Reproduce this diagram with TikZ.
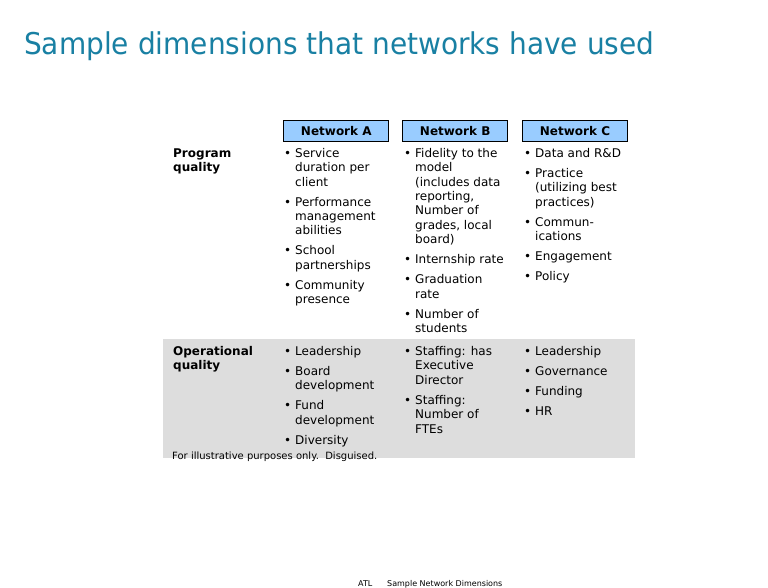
\documentclass[tikz,border=0pt]{standalone}
\usepackage{fontspec}
\setmainfont{DejaVu Sans}
\newfontfamily\titlefont[FakeStretch=0.933]{DejaVu Sans}
\definecolor{titleteal}{RGB}{25,128,163}
\definecolor{headblue}{RGB}{153,204,255}
\definecolor{bandgray}{RGB}{221,221,221}
\newcommand{\bul}{\llap{\textbullet\hspace{4pt}}}
\newcommand{\gap}{\\[5.6pt]}
\tikzset{
  cell/.style={anchor=north west, inner sep=0pt, align=left,
    font=\fontsize{12}{14.4}\selectfont},
  rowlabel/.style={cell, font=\fontsize{12}{14.4}\selectfont\bfseries},
  headbox/.style={draw=black, line width=1.2pt, fill=headblue,
    minimum width=105pt, minimum height=21pt, inner sep=0pt,
    font=\fontsize{12}{14.4}\selectfont\bfseries},
}
\begin{document}
\begin{tikzpicture}[x=1pt,y=-1pt]
\useasboundingbox (0,0) rectangle (768,588);
% title
\node[anchor=base west, inner sep=0pt, text=titleteal,
  font=\titlefont\fontsize{30}{36}\selectfont] (title) at (24,55)
  {Sample dimensions that networks have used};
% gray band for operational quality
\fill[bandgray] (163,339) rectangle (635,458);
% headers
\node[headbox] (hA) at (336.3,130.8) {Network A};
\node[headbox] (hB) at (455.2,130.8) {Network B};
\node[headbox] (hC) at (575,130.8) {Network C};
% row labels
\node[rowlabel] (pq) at (173,147.0) {\strut Program\\quality};
\node[rowlabel] (oq) at (173,345.3) {\strut Operational\\quality};
% program quality cells
\node[cell] (pA) at (295,147.0) {\strut\bul Service\\duration per\\client\gap
  \bul Performance\\management\\abilities\gap
  \bul School\\partnerships\gap
  \bul Community\\presence};
\node[cell] (pB) at (415,147.0) {\strut\bul Fidelity to the\\model\\(includes data\\reporting,\\Number of\\grades, local\\board)\gap
  \bul Internship rate\gap
  \bul Graduation\\rate\gap
  \bul Number of\\students};
\node[cell] (pC) at (535,147.0) {\strut\bul Data and R\&D\gap
  \bul Practice\\(utilizing best\\practices)\gap
  \bul Commun-\\ications\gap
  \bul Engagement\gap
  \bul Policy};
% operational quality cells
\node[cell] (oA) at (295,345.3) {\strut\bul Leadership\gap
  \bul Board\\development\gap
  \bul Fund\\development\gap
  \bul Diversity};
\node[cell] (oB) at (415,345.3) {\strut\bul Staffing: has\\Executive\\Director\gap
  \bul Staffing:\\Number of\\FTEs};
\node[cell] (oC) at (535,345.3) {\strut\bul Leadership\gap
  \bul Governance\gap
  \bul Funding\gap
  \bul HR};
% footnote
\node[anchor=base west, inner sep=0pt, font=\fontsize{10}{12}\selectfont]
  (note) at (172,459) {For illustrative purposes only.\ \ Disguised.};
% footer
\node[anchor=base west, inner sep=0pt, font=\fontsize{8}{9.6}\selectfont]
  (atl) at (358,586.5) {ATL};
\node[anchor=base west, inner sep=0pt, font=\fontsize{8}{9.6}\selectfont]
  (foot) at (387,586.5) {Sample Network Dimensions};
\end{tikzpicture}
\end{document}
